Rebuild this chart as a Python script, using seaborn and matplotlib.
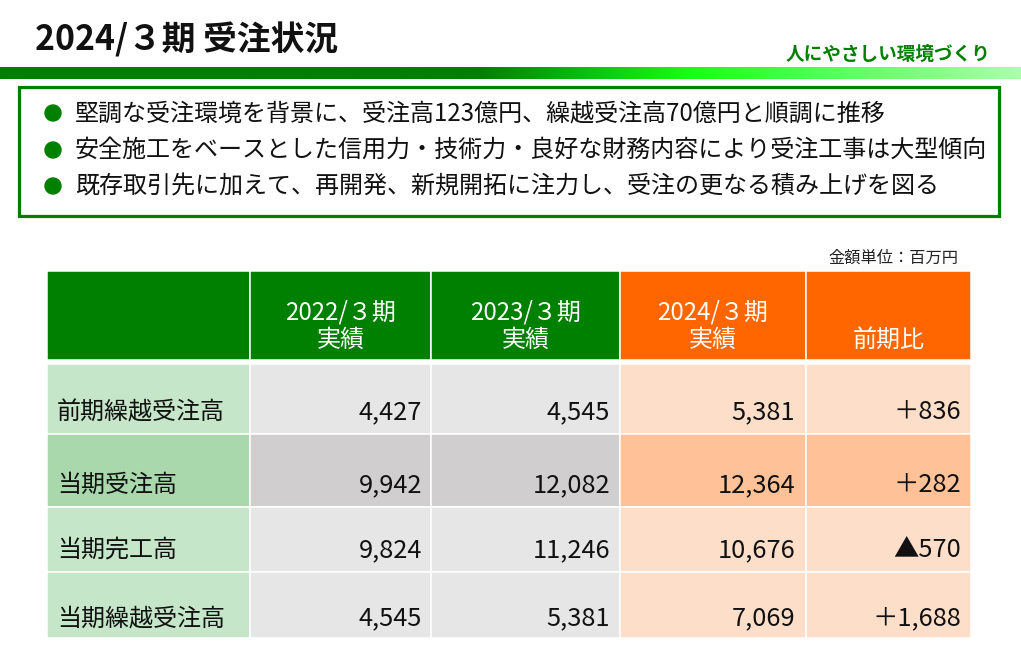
import numpy as np
import matplotlib
matplotlib.use("Agg")
import matplotlib.pyplot as plt
from matplotlib.colors import LinearSegmentedColormap
from matplotlib.patches import Rectangle, Circle
import seaborn as sns

# ---------------- data ----------------
title = "2024/３期 受注状況"
tagline = "人にやさしい環境づくり"
bullets = [
    "堅調な受注環境を背景に、受注高123億円、繰越受注高70億円と順調に推移",
    "安全施工をベースとした信用力・技術力・良好な財務内容により受注工事は大型傾向",
    "既存取引先に加えて、再開発、新規開拓に注力し、受注の更なる積み上げを図る",
]
unit_label = "金額単位：百万円"
periods = ["2022/３期", "2023/３期", "2024/３期"]
period_sub = "実績"
yoy_header = "前期比"
row_labels = ["前期繰越受注高", "当期受注高", "当期完工高", "当期繰越受注高"]
fy2022 = [4427, 9942, 9824, 4545]
fy2023 = [4545, 12082, 11246, 5381]
fy2024 = [5381, 12364, 10676, 7069]
yoy = [836, 282, -570, 1688]

# ---------------- style ----------------
sns.set_theme(style="white")
plt.rcParams["font.family"] = ["Noto Sans CJK JP", "DejaVu Sans"]

GREEN = "#008000"
ORANGE = "#FF6600"
FS = 17.3
FS_NUM = 18.3

fig = plt.figure(figsize=(10.21, 6.54), dpi=100)
ax = fig.add_axes([0, 0, 1, 1])
ax.set_xlim(0, 1021)
ax.set_ylim(654, 0)
ax.axis("off")

# title & tagline
ax.text(35, 40, title, fontsize=24.3, fontweight="bold", color="#111111",
        ha="left", va="center")
ax.text(990, 54, tagline, fontsize=13.4, fontweight="bold", color=GREEN,
        ha="right", va="center")

# gradient bar
cmap = LinearSegmentedColormap.from_list(
    "bar", [(0.0, "#008000"), (0.47, "#008000"), (0.68, "#1AFF1A"), (1.0, "#AAFFAA")])
grad = np.linspace(0, 1, 512).reshape(1, -1)
ax.imshow(grad, cmap=cmap, aspect="auto", extent=(0, 1021, 79, 67), zorder=1)
ax.set_xlim(0, 1021)
ax.set_ylim(654, 0)

# bullet box
ax.add_patch(Rectangle((18.5, 86.5), 980, 129, fill=False, edgecolor=GREEN,
                       linewidth=2.3, zorder=2))
bullet_y = [113, 150, 186]
for y, txt in zip(bullet_y, bullets):
    ax.add_patch(Circle((53, y), 8, color=GREEN, zorder=3))
    ax.text(75, y, txt, fontsize=17.3, color="#111111", ha="left", va="center")

# unit label
ax.text(958, 258, unit_label, fontsize=11.7, color="#222222", ha="right", va="center")

# ---------------- table ----------------
col_edges = [47, 250, 431, 620, 806, 971]
head_top, head_bot = 271, 360
row_edges = [364, 433.5, 506.5, 571.5, 638]
gap_lw = 1.1

header_colors = [GREEN, GREEN, GREEN, ORANGE, ORANGE]
body_colors = [
    ["#C5E6C9", "#E6E6E6", "#E6E6E6", "#FDDEC9", "#FDDEC9"],
    ["#A8D8AC", "#D0CECE", "#D0CECE", "#FFC197", "#FFC197"],
    ["#C5E6C9", "#E6E6E6", "#E6E6E6", "#FDDEC9", "#FDDEC9"],
    ["#C5E6C9", "#E6E6E6", "#E6E6E6", "#FDDEC9", "#FDDEC9"],
]

lefts = col_edges[:-1]
widths = np.diff(col_edges)
ax.bar(lefts, [head_bot - head_top] * 5, width=widths, bottom=head_top,
       align="edge", color=header_colors, edgecolor="white", linewidth=gap_lw, zorder=2)
for r in range(4):
    ax.bar(lefts, [row_edges[r + 1] - row_edges[r]] * 5, width=widths,
           bottom=row_edges[r], align="edge", color=body_colors[r],
           edgecolor="white", linewidth=gap_lw, zorder=2)

# header text
for c, p in enumerate(periods):
    cx = (col_edges[c + 1] + col_edges[c + 2]) / 2
    ax.text(cx, 312, p, fontsize=FS, color="white", ha="center", va="center", zorder=4)
    ax.text(cx, 340, period_sub, fontsize=FS, color="white", ha="center", va="center", zorder=4)
ax.text((col_edges[4] + col_edges[5]) / 2, 340, yoy_header, fontsize=FS, color="white",
        ha="center", va="center", zorder=4)

# body text
text_y = [412, 485, 550, 618]
num_x = [422, 610, 795, 961]


def fmt_yoy(v):
    return ("＋" if v >= 0 else "▲") + f"{abs(v):,}"


for r in range(4):
    y = text_y[r]
    ax.text(57, y, row_labels[r], fontsize=FS, color="#111111", ha="left", va="center", zorder=4)
    vals = [f"{fy2022[r]:,}", f"{fy2023[r]:,}", f"{fy2024[r]:,}", fmt_yoy(yoy[r])]
    for x, s in zip(num_x, vals):
        ax.text(x, y, s, fontsize=FS_NUM, color="#111111", ha="right", va="center", zorder=4)

fig.savefig("out.png", dpi=100)
